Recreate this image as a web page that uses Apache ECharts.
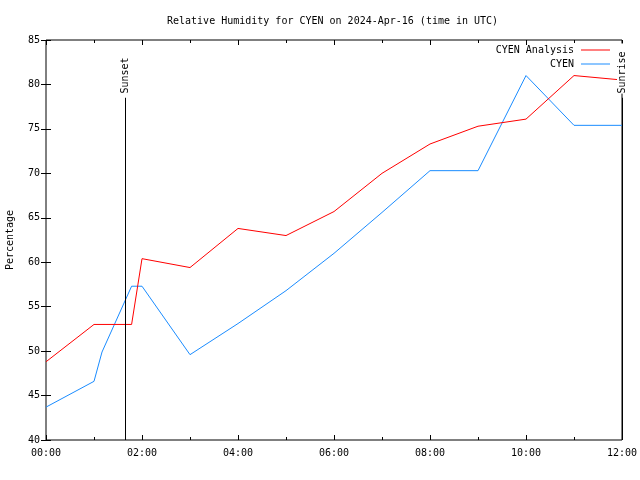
<!DOCTYPE html>
<html>
<head>
<meta charset="utf-8">
<script src="https://cdn.jsdelivr.net/npm/echarts@6/dist/echarts.min.js"></script>
<style>html,body{margin:0;padding:0;background:#fff}#c{width:640px;height:480px}</style>
</head>
<body>
<div id="c"></div>
<script>
const analysisTimes = ['00:00','01:00','01:47','02:00','03:00','04:00','05:00','06:00','07:00','08:00','09:00','10:00','11:00','12:00'];
const analysisValues = [48.8, 53.0, 53.0, 60.4, 59.4, 63.8, 63.0, 65.7, 70.0, 73.3, 75.3, 76.1, 81.0, 80.5];
const obsTimes = ['00:00','01:00','01:10','01:47','02:00','03:00','04:00','05:00','06:00','07:00','08:00','09:00','10:00','11:00','12:00'];
const obsValues = [43.7, 46.6, 49.9, 57.3, 57.3, 49.6, 53.1, 56.8, 61.0, 65.6, 70.3, 70.3, 81.0, 75.4, 75.4];
const sunEvents = [{name: 'Sunset', time: '01:39'}, {name: 'Sunrise', time: '12:00'}];
const sunLineTop = 78.5;
const sunLabelStart = 78.97;
const seriesNames = ['CYEN Analysis', 'CYEN'];

const FONT = 'DejaVu Sans Mono';
function toHours(t) { const p = t.split(':'); return +p[0] + (+p[1]) / 60; }
function pair(times, vals) { return times.map((t, i) => [toHours(t), vals[i]]); }
function fmtHour(v) { return (v < 10 ? '0' : '') + v + ':00'; }

const chart = echarts.init(document.getElementById('c'));
const tickCommon = {
  axisLine: {show: false},
  splitLine: {show: false}
};
chart.setOption({
  animation: false,
  backgroundColor: '#fff',
  textStyle: {fontFamily: FONT, color: '#000'},
  title: {
    text: 'Relative Humidity for CYEN on 2024-Apr-16 (time in UTC)',
    left: 162, top: 11,
    textStyle: {fontFamily: FONT, fontSize: 10, fontWeight: 'normal', color: '#000'}
  },
  legend: {
    orient: 'vertical', right: 25, top: 39, align: 'right',
    icon: 'rect', itemWidth: 29, itemHeight: 1, itemGap: 2,
    textStyle: {fontFamily: FONT, fontSize: 10, color: '#000', padding: [0, 2, 0, 0], lineHeight: 12},
    data: seriesNames
  },
  grid: {left: 46, right: 18, top: 40, bottom: 40, show: true, borderColor: '#000', borderWidth: 1, outerBoundsMode: 'none', containLabel: false},
  xAxis: [
    Object.assign({
      type: 'value', min: 0, max: 12, interval: 2,
      axisTick: {inside: true, length: 5, lineStyle: {color: '#000'}},
      minorTick: {show: true, splitNumber: 2, length: 3, lineStyle: {color: '#000'}},
      axisLabel: {formatter: fmtHour, fontFamily: FONT, fontSize: 10, color: '#000', margin: 8},
      minorSplitLine: {show: false}
    }, tickCommon),
    Object.assign({
      type: 'value', min: 0, max: 12, interval: 2, position: 'top',
      axisTick: {inside: true, length: 5, lineStyle: {color: '#000'}},
      minorTick: {show: true, splitNumber: 2, length: 3, lineStyle: {color: '#000'}},
      axisLabel: {show: false}
    }, tickCommon)
  ],
  yAxis: [
    Object.assign({
      type: 'value', min: 40, max: 85, interval: 5,
      name: 'Percentage', nameLocation: 'middle', nameGap: 31, nameRotate: 90,
      nameTextStyle: {fontFamily: FONT, fontSize: 10, color: '#000'},
      axisTick: {inside: true, length: 5, lineStyle: {color: '#000'}},
      axisLabel: {fontFamily: FONT, fontSize: 10, color: '#000', margin: 6}
    }, tickCommon),
    Object.assign({
      type: 'value', min: 40, max: 85, interval: 5, position: 'right',
      axisTick: {inside: true, length: 5, lineStyle: {color: '#000'}},
      axisLabel: {show: false}
    }, tickCommon)
  ],
  series: [
    {
      name: seriesNames[0], type: 'line', symbol: 'none',
      data: pair(analysisTimes, analysisValues),
      lineStyle: {color: '#ff0000', width: 1},
      itemStyle: {color: '#ff0000'},
      z: 3
    },
    {
      name: seriesNames[1], type: 'line', symbol: 'none',
      data: pair(obsTimes, obsValues),
      lineStyle: {color: '#1a8cff', width: 1},
      itemStyle: {color: '#1a8cff'},
      z: 2
    },
    {
      name: 'sun', type: 'line', data: [], symbol: 'none',
      markLine: {
        silent: true, symbol: ['none', 'none'],
        lineStyle: {color: '#000', width: 1, type: 'solid'},
        label: {show: false},
        data: sunEvents.map(e => [{coord: [toHours(e.time), 40]}, {coord: [toHours(e.time), sunLineTop]}])
      },
      markPoint: {
        silent: true, symbol: 'rect', symbolSize: 0,
        label: {
          show: true, formatter: '{b}', rotate: 90, position: 'inside',
          align: 'left', verticalAlign: 'middle',
          fontFamily: FONT, fontSize: 10, color: '#000'
        },
        data: sunEvents.map((e, i) => ({
          name: e.name, coord: [toHours(e.time), sunLabelStart],
          label: i === 1 ? {backgroundColor: '#fff', padding: [0, 8, 0, 0]} : {}
        }))
      },
      z: 5
    }
  ]
});
</script>
</body>
</html>
